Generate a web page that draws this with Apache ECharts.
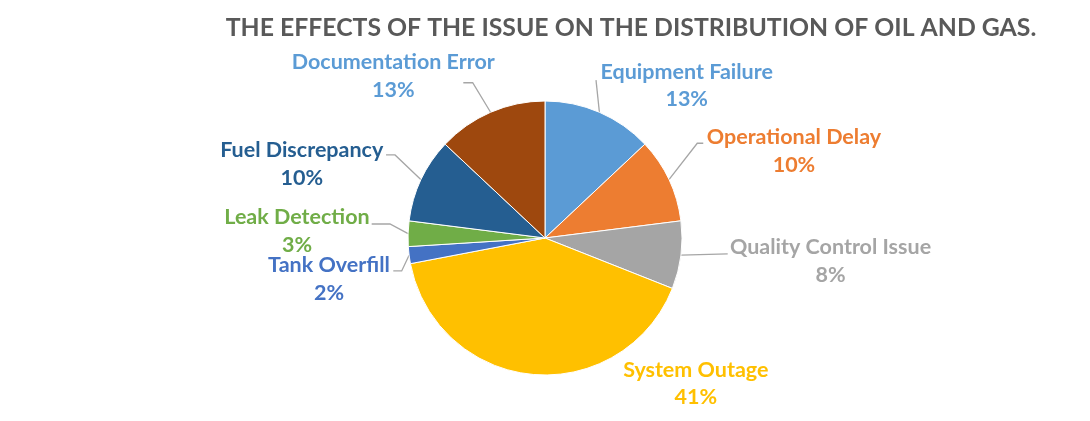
<!DOCTYPE html>
<html><head><meta charset="utf-8">
<script src="https://cdn.jsdelivr.net/npm/echarts@6/dist/echarts.min.js"></script>
<style>html,body{margin:0;padding:0;background:#fff}#c{width:1090px;height:421px}</style>
</head><body><div id="c"></div>
<script>
const titleText = 'THE EFFECTS OF THE ISSUE ON THE DISTRIBUTION OF OIL AND GAS.';
const categories = ['Equipment Failure', 'Operational Delay', 'Quality Control Issue', 'System Outage', 'Tank Overfill', 'Leak Detection', 'Fuel Discrepancy', 'Documentation Error'];
const shares = [13, 10, 8, 41, 2, 3, 10, 13];
const sliceColors = ['#5B9BD5', '#ED7D31', '#A5A5A5', '#FFC000', '#4472C4', '#70AD47', '#255E91', '#9E480E'];
const labelColors = ['#5B9BD5', '#ED7D31', '#A5A5A5', '#FFC000', '#4472C4', '#70AD47', '#255E91', '#5B9BD5'];

// label placement relative to the slice-edge point computed by ECharts
const labelGeom = [
  { elbow: [-3.4, -32.2], end: [-3.4, -32.2], text: [87.3, -26.7] },
  { elbow: [28.3, -36.4], end: [34.3, -36.4], text: [125, -28.7] },
  { elbow: [46.8, -1.2], end: [46.8, -1.2], text: [149.6, 5.8] },
  { elbow: null, end: null, text: [163.7, 9.1] },
  { elbow: [-7.4, 15.8], end: [-15.8, 15.8], text: [-80.1, 23.8] },
  { elbow: [-18.1, -9.7], end: [-36.4, -9.7], text: [-111.1, -2.7] },
  { elbow: [-26, -24.7], end: [-35, -24.7], text: [-119.3, -15.7] },
  { elbow: [-17.9, -29.5], end: [-27.3, -29.5], text: [-97.3, -36.2] }
];

const chart = echarts.init(document.getElementById('c'), null, { renderer: 'canvas' });
const data = categories.map((name, i) => ({
  name: name,
  value: shares[i],
  itemStyle: { color: sliceColors[i] },
  label: { color: labelColors[i] }
}));

chart.setOption({
  animation: false,
  backgroundColor: '#ffffff',
  title: {
    text: titleText,
    left: 626,
    textAlign: 'center',
    top: 11,
    textStyle: { fontFamily: 'Lato', fontWeight: 'bold', fontSize: 24.8, color: '#595959' }
  },
  series: [{
    type: 'pie',
    center: [545, 238],
    radius: 137,
    startAngle: 90,
    clockwise: true,
    avoidLabelOverlap: false,
    percentPrecision: 0,
    silent: true,
    data: data,
    itemStyle: { borderColor: '#ffffff', borderWidth: 1 },
    label: {
      show: true,
      position: 'outside',
      formatter: '{b}\n{d}%',
      fontFamily: 'Lato',
      fontWeight: 'bold',
      fontSize: 21.5,
      lineHeight: 27.5
    },
    labelLine: {
      show: true,
      length: 20,
      length2: 10,
      lineStyle: { color: '#A6A6A6', width: 1.3 }
    },
    labelLayout: function (params) {
      const g = labelGeom[params.dataIndex];
      const p0 = params.labelLinePoints[0];
      const res = {
        x: p0[0] + g.text[0],
        y: p0[1] + g.text[1],
        align: 'center',
        verticalAlign: 'middle'
      };
      if (g.elbow) {
        res.labelLinePoints = [
          [p0[0], p0[1]],
          [p0[0] + g.elbow[0], p0[1] + g.elbow[1]],
          [p0[0] + g.end[0], p0[1] + g.end[1]]
        ];
      } else {
        res.labelLinePoints = [[p0[0], p0[1]], [p0[0], p0[1]], [p0[0], p0[1]]];
      }
      return res;
    },
    emphasis: { disabled: true }
  }]
});
</script>
</body></html>
